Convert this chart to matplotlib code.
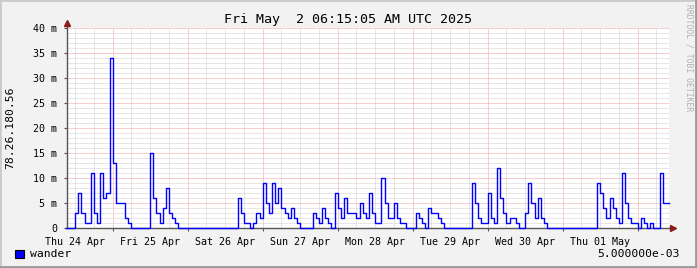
import matplotlib
matplotlib.use("Agg")
import matplotlib.pyplot as plt
from matplotlib.ticker import MultipleLocator, FuncFormatter
from matplotlib.patches import Rectangle

# hours relative to Fri 25 Apr 00:00, value (milli) from that hour on
change_hours = [-15, -12, -11, -10, -9, -7, -6, -5, -4, -3, -2, -1, 0, 1, 4, 5, 6,
                12, 13, 14, 15, 16, 17, 18, 19, 20, 21,
                40, 41, 42, 44, 45, 46, 47, 48, 49, 50, 51, 52, 53, 54, 55, 56, 57, 58, 59, 60,
                64, 65, 66, 67, 68, 69, 70, 71, 72, 73, 74, 75, 78, 79, 80, 81, 82, 83, 84,
                86, 87, 88, 90, 91, 92, 94, 97, 98, 99, 100, 101, 102, 104, 105, 106,
                115, 116, 117, 118, 120, 121, 122, 123, 124, 125, 126, 127, 129, 130,
                132, 133, 134, 135, 136, 137, 138, 139,
                155, 156, 157, 158, 159, 160, 161, 162, 163, 164, 165, 166, 168, 169, 170,
                171, 172, 173, 175, 176, 178]
change_vals = [0, 3, 7, 3, 1, 11, 3, 1, 11, 6, 7, 34, 13, 5, 2, 1, 0,
               15, 6, 3, 1, 4, 8, 3, 2, 1, 0,
               6, 3, 1, 0, 1, 3, 2, 9, 5, 3, 9, 5, 8, 4, 3, 2, 4, 2, 1, 0,
               3, 2, 1, 4, 2, 1, 0, 7, 4, 2, 6, 3, 2, 5, 3, 2, 7, 3, 1,
               10, 5, 2, 5, 2, 1, 0, 3, 2, 1, 0, 4, 3, 2, 1, 0,
               9, 5, 2, 1, 7, 2, 1, 12, 6, 3, 1, 2, 1, 0,
               3, 9, 5, 2, 6, 2, 1, 0,
               9, 7, 4, 2, 6, 4, 2, 1, 11, 5, 2, 1, 0, 2, 1,
               0, 1, 0, 11, 5, 5]

day_labels = ["Thu 24 Apr", "Fri 25 Apr", "Sat 26 Apr", "Sun 27 Apr",
              "Mon 28 Apr", "Tue 29 Apr", "Wed 30 Apr", "Thu 01 May"]
day_noons = [-12, 12, 36, 60, 84, 108, 132, 156]

title = "Fri May  2 06:15:05 AM UTC 2025"
ylabel = "78.26.180.56"
series_name = "wander"
footer = "5.000000e-03"

mono = "DejaVu Sans Mono"
W, H = 697, 268
fig = plt.figure(figsize=(W / 100, H / 100), dpi=100, facecolor="#f2f2f2")
ax = fig.add_axes([67 / W, 39.7 / H, 602 / W, 200 / H])
ax.set_facecolor("white")
ax.set_xlim(-14.6, 178.0)
ax.set_ylim(0, 40)

dots = (0, (1, 1))
ax.xaxis.set_major_locator(MultipleLocator(24))
ax.xaxis.set_minor_locator(MultipleLocator(6))
ax.yaxis.set_major_locator(MultipleLocator(5))
ax.yaxis.set_minor_locator(MultipleLocator(1))
ax.grid(which="minor", color="#cfcfcf", lw=0.72, linestyle=dots)
ax.grid(which="major", color="#f19c9c", lw=0.72, linestyle=dots)
ax.set_axisbelow(True)
for s in ax.spines.values():
    s.set_visible(False)
ax.xaxis.set_major_formatter(FuncFormatter(lambda v, p: ""))
ax.yaxis.set_major_formatter(FuncFormatter(lambda v, p: "0" if v == 0 else "%d m" % v))
ax.tick_params(axis="y", which="major", length=2, pad=5, labelsize=7.2, color="#555555")
ax.tick_params(axis="x", which="major", length=2, color="#555555")
ax.tick_params(which="minor", length=0)
for lab in ax.get_yticklabels():
    lab.set_fontfamily(mono)

for x, txt in zip(day_noons, day_labels):
    ax.text(x, -0.045, txt, transform=ax.get_xaxis_transform(), ha="center", va="top",
            fontsize=7.2, family=mono)

# axes lines and arrows
ax.plot([0, 0], [0, 1.025], transform=ax.transAxes, color="#555555", lw=1, clip_on=False, zorder=2)
ax.plot([0, 1.0], [0, 0], transform=ax.transAxes, color="#555555", lw=1, clip_on=False, zorder=2)
ax.plot([0], [1.025], marker="^", ms=4, color="#8b1a1a", transform=ax.transAxes, clip_on=False)
ax.plot([1.006], [0], marker=">", ms=4, color="#8b1a1a", transform=ax.transAxes, clip_on=False)

ax.step(change_hours, change_vals, where="post", color="#0000ff", lw=1, zorder=3, clip_on=False)

fig.text(348 / W, 1 - 19 / H, title, ha="center", va="center", fontsize=9.6, family=mono)
fig.text(10 / W, 1 - 128 / H, ylabel, ha="center", va="center", rotation=90, fontsize=8.2, family=mono)
fig.text(30 / W, 1 - 254 / H, series_name, ha="left", va="center", fontsize=8.2, family=mono)
fig.text(680 / W, 1 - 254 / H, footer, ha="right", va="center", fontsize=8.2, family=mono)
fig.text(689 / W, 1 - 58 / H, "RRDTOOL / TOBI OETIKER", ha="center", va="center", rotation=-90,
         fontsize=5.8, family=mono, color="#b0b0b0")
fig.patches.append(Rectangle((15 / W, 1 - 258 / H), 9 / W, 8 / H, transform=fig.transFigure,
                             facecolor="#0000ff", edgecolor="black", lw=0.8))

# shaded frame
fig.patches.append(Rectangle((0, 0), 1, 1, transform=fig.transFigure, fill=False,
                             edgecolor="#cbcbcb", lw=2))
fig.add_artist(plt.Line2D([0, 1], [0.002, 0.002], transform=fig.transFigure, color="#999999", lw=2))
fig.add_artist(plt.Line2D([0.998, 0.998], [0, 1], transform=fig.transFigure, color="#999999", lw=2))

fig.savefig("out.png", dpi=100, facecolor=fig.get_facecolor())
